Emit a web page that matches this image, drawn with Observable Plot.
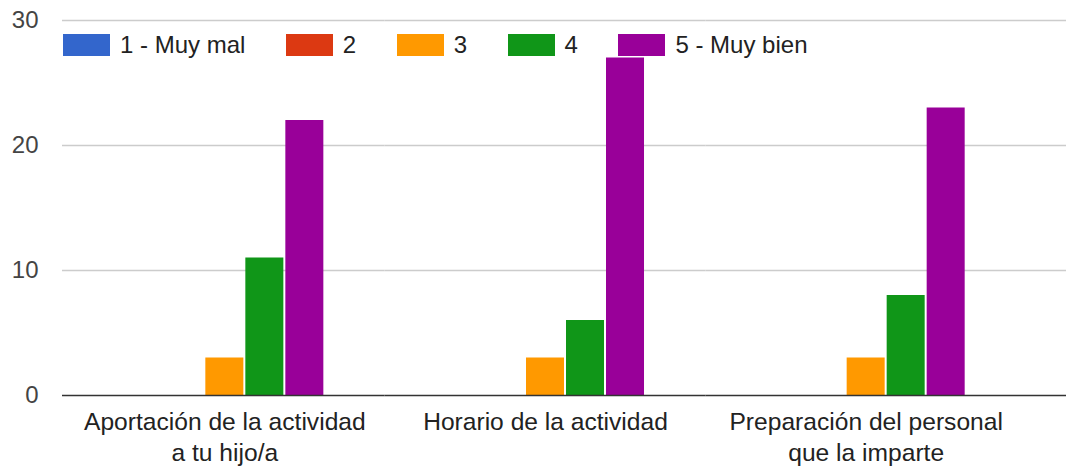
<!DOCTYPE html>
<html>
<head>
<meta charset="utf-8">
<script src="https://cdn.jsdelivr.net/npm/d3@7"></script>
<script src="https://cdn.jsdelivr.net/npm/@observablehq/plot@0.6"></script>
<style>
  html, body { margin: 0; padding: 0; background: #fff; }
  #wrap { position: relative; width: 1066px; height: 469px; font-family: "Liberation Sans", Arial, sans-serif; }
  #wrap svg { position: absolute; left: 0; top: 0; }
  #legend { position: absolute; left: 63px; top: 30.5px; display: flex; align-items: center; font-size: 24px; color: #222; z-index: 2; }
  .item { display: flex; align-items: center; margin-right: 40.5px; }
  .sw { width: 47px; height: 22px; margin-right: 10px; }
</style>
</head>
<body>
<div id="wrap"><div id="legend"></div></div>
<script>
const categories = ["Aportación de la actividad", "Horario de la actividad", "Preparación del personal"];
const categoryLabels = ["Aportación de la actividad\na tu hijo/a", "Horario de la actividad", "Preparación del personal\nque la imparte"];
const series = ["1 - Muy mal", "2", "3", "4", "5 - Muy bien"];
const colors = ["#3366cc", "#dc3912", "#ff9900", "#109618", "#990099"];
const values1 = [0, 0, 0];   // 1 - Muy mal
const values2 = [0, 0, 0];   // 2
const values3 = [3, 3, 3];   // 3
const values4 = [11, 6, 8];  // 4
const values5 = [22, 27, 23];// 5 - Muy bien
const yTicks = [0, 10, 20, 30];

const seriesValues = [values1, values2, values3, values4, values5];
const data = [];
categories.forEach((c, i) => series.forEach((s, j) => data.push({cat: c, series: s, value: seriesValues[j][i]})));

const labelOf = new Map(categories.map((c, i) => [c, categoryLabels[i]]));
const gridRows = categories.flatMap(c => yTicks.map(t => ({cat: c, y: t})));

const legend = document.getElementById("legend");
series.forEach((s, i) => {
  const it = document.createElement("div");
  it.className = "item";
  const sw = document.createElement("div");
  sw.className = "sw";
  sw.style.background = colors[i];
  const t = document.createElement("span");
  t.textContent = s;
  it.appendChild(sw); it.appendChild(t);
  legend.appendChild(it);
});

function rules(idx, zero, opts) {
  const rows = gridRows.filter(d => d.cat === categories[idx] && (zero ? d.y === 0 : d.y !== 0));
  return Plot.ruleY(rows, Object.assign({fx: "cat", y: "y"}, zero ? {stroke: "#333", strokeWidth: 1.6} : {stroke: "#cccccc", strokeWidth: 1.5}, opts));
}

const chart = Plot.plot({
  width: 1066,
  height: 469,
  marginLeft: 64,
  marginRight: 40,
  marginTop: 20,
  marginBottom: 74,
  style: {fontFamily: "'Liberation Sans', Arial, sans-serif", fontSize: "24px", background: "transparent"},
  fx: {domain: categories, paddingInner: 0, paddingOuter: 0, round: false, label: null},
  x: {domain: series, paddingInner: 0.05, paddingOuter: 1.533, round: false, axis: null},
  y: {domain: [0, 30], label: null},
  color: {domain: series, range: colors},
  marks: [
    rules(0, false, {insetLeft: -2}),
    rules(1, false, {}),
    rules(2, false, {insetRight: -40}),
    Plot.barY(data, {fx: "cat", x: "series", y: "value", fill: "series"}),
    rules(0, true, {insetLeft: -2}),
    rules(1, true, {}),
    rules(2, true, {insetRight: -40}),
    Plot.axisY({ticks: yTicks, tickSize: 0, tickPadding: 26, fontSize: 24, fill: "#444", label: null}),
    Plot.axisFx({anchor: "bottom", tickSize: 0, tickPadding: 12, fontSize: 24.6, fill: "#222", lineHeight: 1.27, label: null, tickFormat: d => labelOf.get(d)})
  ]
});
document.getElementById("wrap").appendChild(chart);
</script>
</body>
</html>
